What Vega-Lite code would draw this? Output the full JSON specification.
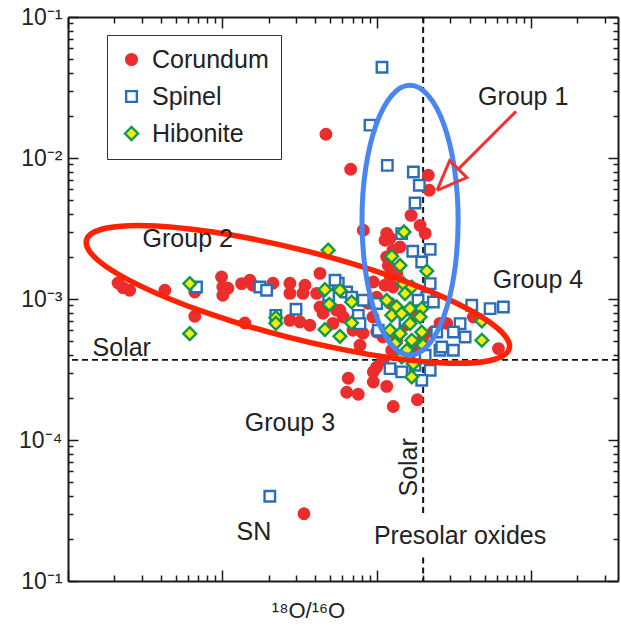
{
 "$schema": "https://vega.github.io/schema/vega-lite/v6.json",
 "width": 550,
 "height": 564,
 "autosize": {"type": "none"},
 "padding": {"left": 68, "top": 17, "right": 3, "bottom": 45},
 "background": "white",
 "config": {
  "view": {"stroke": null},
  "font": "Liberation Sans",
  "axis": {"grid": false, "domainColor": "#1a1a1a", "domainWidth": 2, "tickColor": "#1a1a1a", "tickWidth": 1.5, "labelFont": "Liberation Sans", "labelFontSize": 23, "labelColor": "#222", "labelOverlap": false, "labelFlush": false, "titleFont": "Liberation Sans", "titleFontWeight": "normal", "titleColor": "#222"}
 },
 "datasets": {
  "solarH": [{"y": 0.00037}],
  "solarV": [{"x": 0.002, "y": 0.1, "y2": 0.0000302}, {"x": 0.002, "y": 0.0000147, "y2": 0.00001}],
  "grains": [
   {"mineral":"Corundum","x":2.11e-5,"y":1.30e-3},{"mineral":"Corundum","x":2.27e-5,"y":1.205e-3},{"mineral":"Corundum","x":2.51e-5,"y":1.153e-3},{"mineral":"Corundum","x":4.24e-5,"y":1.153e-3},{"mineral":"Corundum","x":6.63e-5,"y":1.121e-3},{"mineral":"Corundum","x":6.63e-5,"y":7.54e-4},{"mineral":"Corundum","x":9.88e-5,"y":1.432e-3},{"mineral":"Corundum","x":1.007e-4,"y":1.216e-3},{"mineral":"Corundum","x":1.086e-4,"y":1.191e-3},{"mineral":"Corundum","x":1.007e-4,"y":1.062e-3},{"mineral":"Corundum","x":1.399e-4,"y":6.76e-4},{"mineral":"Corundum","x":1.332e-4,"y":1.286e-3},{"mineral":"Corundum","x":1.508e-4,"y":1.357e-3},{"mineral":"Corundum","x":1.577e-4,"y":1.251e-3},{"mineral":"Corundum","x":2.126e-4,"y":1.292e-3},{"mineral":"Corundum","x":2.74e-4,"y":1.292e-3},{"mineral":"Corundum","x":2.74e-4,"y":1.097e-3},{"mineral":"Corundum","x":3.43e-4,"y":1.251e-3},{"mineral":"Corundum","x":3.33e-4,"y":1.097e-3},{"mineral":"Corundum","x":4.29e-4,"y":1.521e-3},{"mineral":"Corundum","x":4.08e-4,"y":1.097e-3},{"mineral":"Corundum","x":2.74e-4,"y":7.06e-4},{"mineral":"Corundum","x":3.18e-4,"y":6.87e-4},{"mineral":"Corundum","x":3.69e-4,"y":6.51e-4},{"mineral":"Corundum","x":4.49e-4,"y":7.92e-4},{"mineral":"Corundum","x":5.21e-4,"y":6.72e-4},{"mineral":"Corundum","x":7.02e-4,"y":6.0e-4},{"mineral":"Corundum","x":5.78e-4,"y":8.32e-4},{"mineral":"Corundum","x":4.29e-4,"y":8.78e-4},{"mineral":"Corundum","x":4.69e-4,"y":1.473e-2},{"mineral":"Corundum","x":6.78e-4,"y":8.32e-3},{"mineral":"Corundum","x":2.16e-3,"y":7.54e-3},{"mineral":"Corundum","x":2.19e-3,"y":5.90e-3},{"mineral":"Corundum","x":1.67e-3,"y":3.92e-3},{"mineral":"Corundum","x":1.91e-3,"y":3.33e-3},{"mineral":"Corundum","x":2.06e-3,"y":2.92e-3},{"mineral":"Corundum","x":8.19e-4,"y":3.07e-3},{"mineral":"Corundum","x":1.161e-3,"y":2.92e-3},{"mineral":"Corundum","x":1.22e-3,"y":2.70e-3},{"mineral":"Corundum","x":1.132e-3,"y":2.61e-3},{"mineral":"Corundum","x":1.276e-3,"y":2.22e-3},{"mineral":"Corundum","x":1.416e-3,"y":2.34e-3},{"mineral":"Corundum","x":1.161e-3,"y":1.99e-3},{"mineral":"Corundum","x":1.189e-3,"y":1.73e-3},{"mineral":"Corundum","x":1.22e-3,"y":1.47e-3},{"mineral":"Corundum","x":1.348e-3,"y":1.521e-3},{"mineral":"Corundum","x":9.51e-4,"y":1.32e-3},{"mineral":"Corundum","x":1.132e-3,"y":1.251e-3},{"mineral":"Corundum","x":1.276e-3,"y":1.216e-3},{"mineral":"Corundum","x":1.0e-3,"y":1.03e-3},{"mineral":"Corundum","x":1.22e-3,"y":9.32e-4},{"mineral":"Corundum","x":5.50e-4,"y":8.32e-4},{"mineral":"Corundum","x":6.07e-4,"y":7.45e-4},{"mineral":"Corundum","x":8.78e-4,"y":9.32e-4},{"mineral":"Corundum","x":9.46e-4,"y":7.45e-4},{"mineral":"Corundum","x":8.15e-4,"y":5.71e-4},{"mineral":"Corundum","x":1.0e-3,"y":5.83e-4},{"mineral":"Corundum","x":1.099e-3,"y":5.38e-4},{"mineral":"Corundum","x":1.348e-3,"y":5.10e-4},{"mineral":"Corundum","x":1.72e-3,"y":4.57e-4},{"mineral":"Corundum","x":2.0e-3,"y":5.38e-4},{"mineral":"Corundum","x":2.32e-3,"y":5.83e-4},{"mineral":"Corundum","x":2.57e-3,"y":6.72e-4},{"mineral":"Corundum","x":2.84e-3,"y":6.72e-4},{"mineral":"Corundum","x":4.23e-3,"y":7.45e-4},{"mineral":"Corundum","x":6.15e-3,"y":4.45e-4},{"mineral":"Corundum","x":1.251e-3,"y":4.33e-4},{"mineral":"Corundum","x":1.099e-3,"y":3.67e-4},{"mineral":"Corundum","x":1.0e-3,"y":3.29e-4},{"mineral":"Corundum","x":9.51e-4,"y":3.04e-4},{"mineral":"Corundum","x":6.54e-4,"y":2.74e-4},{"mineral":"Corundum","x":6.39e-4,"y":2.18e-4},{"mineral":"Corundum","x":7.60e-4,"y":2.11e-4},{"mineral":"Corundum","x":1.161e-3,"y":2.40e-4},{"mineral":"Corundum","x":1.28e-3,"y":1.73e-4},{"mineral":"Corundum","x":1.834e-3,"y":1.93e-4},{"mineral":"Corundum","x":3.38e-4,"y":3.0e-5},{"mineral":"Corundum","x":9.51e-4,"y":2.58e-4},{"mineral":"Corundum","x":1.526e-3,"y":6.51e-4},{"mineral":"Corundum","x":7.79e-4,"y":4.70e-4},{"mineral":"Corundum","x":1.772e-3,"y":7.66e-4},
   {"mineral":"Spinel","x":6.80e-5,"y":1.216e-3},{"mineral":"Spinel","x":1.751e-4,"y":1.216e-3},{"mineral":"Spinel","x":1.935e-4,"y":1.153e-3},{"mineral":"Spinel","x":2.22e-4,"y":7.66e-4},{"mineral":"Spinel","x":3.0e-4,"y":8.45e-4},{"mineral":"Spinel","x":5.64e-4,"y":1.292e-3},{"mineral":"Spinel","x":6.39e-4,"y":1.121e-3},{"mineral":"Spinel","x":6.88e-4,"y":1.03e-3},{"mineral":"Spinel","x":4.88e-4,"y":1.062e-3},{"mineral":"Spinel","x":1.082e-3,"y":4.40e-2},{"mineral":"Spinel","x":9.05e-4,"y":1.71e-2},{"mineral":"Spinel","x":1.172e-3,"y":8.87e-3},{"mineral":"Spinel","x":1.728e-3,"y":7.96e-3},{"mineral":"Spinel","x":1.889e-3,"y":6.40e-3},{"mineral":"Spinel","x":1.772e-3,"y":4.80e-3},{"mineral":"Spinel","x":1.452e-3,"y":2.91e-3},{"mineral":"Spinel","x":1.712e-3,"y":2.18e-3},{"mineral":"Spinel","x":2.22e-3,"y":2.25e-3},{"mineral":"Spinel","x":1.958e-3,"y":1.83e-3},{"mineral":"Spinel","x":5.37e-4,"y":1.357e-3},{"mineral":"Spinel","x":8.19e-4,"y":9.79e-4},{"mineral":"Spinel","x":1.0e-3,"y":9.28e-4},{"mineral":"Spinel","x":2.11e-3,"y":1.03e-3},{"mineral":"Spinel","x":2.33e-3,"y":9.52e-4},{"mineral":"Spinel","x":2.22e-3,"y":1.286e-3},{"mineral":"Spinel","x":7.60e-4,"y":7.66e-4},{"mineral":"Spinel","x":7.79e-4,"y":6.69e-4},{"mineral":"Spinel","x":1.024e-3,"y":6.0e-4},{"mineral":"Spinel","x":4.13e-3,"y":9.02e-4},{"mineral":"Spinel","x":5.43e-3,"y":8.55e-4},{"mineral":"Spinel","x":6.62e-3,"y":8.78e-4},{"mineral":"Spinel","x":3.47e-3,"y":6.69e-4},{"mineral":"Spinel","x":3.14e-3,"y":5.83e-4},{"mineral":"Spinel","x":3.74e-3,"y":5.38e-4},{"mineral":"Spinel","x":2.57e-3,"y":4.33e-4},{"mineral":"Spinel","x":3.14e-3,"y":4.33e-4},{"mineral":"Spinel","x":2.22e-3,"y":3.12e-4},{"mineral":"Spinel","x":1.22e-3,"y":3.21e-4},{"mineral":"Spinel","x":1.452e-3,"y":3.04e-4},{"mineral":"Spinel","x":1.958e-3,"y":2.65e-4},{"mineral":"Spinel","x":2.45e-3,"y":5.83e-4},{"mineral":"Spinel","x":2.64e-3,"y":4.57e-4},{"mineral":"Spinel","x":1.603e-3,"y":4.10e-4},{"mineral":"Spinel","x":2.03e-4,"y":3.99e-5},{"mineral":"Spinel","x":1.853e-3,"y":9.79e-4},{"mineral":"Spinel","x":1.526e-3,"y":7.06e-4},{"mineral":"Spinel","x":2.06e-3,"y":3.99e-4},{"mineral":"Spinel","x":1.772e-3,"y":3.39e-4},
   {"mineral":"Hibonite","x":6.15e-5,"y":1.286e-3},{"mineral":"Hibonite","x":6.15e-5,"y":5.68e-4},{"mineral":"Hibonite","x":4.85e-4,"y":2.22e-3},{"mineral":"Hibonite","x":4.62e-4,"y":1.166e-3},{"mineral":"Hibonite","x":5.78e-4,"y":1.153e-3},{"mineral":"Hibonite","x":4.93e-4,"y":9.17e-4},{"mineral":"Hibonite","x":6.88e-4,"y":9.52e-4},{"mineral":"Hibonite","x":2.22e-4,"y":7.38e-4},{"mineral":"Hibonite","x":2.22e-4,"y":6.72e-4},{"mineral":"Hibonite","x":4.62e-4,"y":6.07e-4},{"mineral":"Hibonite","x":5.78e-4,"y":5.44e-4},{"mineral":"Hibonite","x":6.88e-4,"y":6.76e-4},{"mineral":"Hibonite","x":1.503e-3,"y":2.99e-3},{"mineral":"Hibonite","x":1.251e-3,"y":2.01e-3},{"mineral":"Hibonite","x":1.416e-3,"y":1.73e-3},{"mineral":"Hibonite","x":2.11e-3,"y":1.58e-3},{"mineral":"Hibonite","x":1.488e-3,"y":1.286e-3},{"mineral":"Hibonite","x":1.687e-3,"y":1.216e-3},{"mineral":"Hibonite","x":1.526e-3,"y":1.092e-3},{"mineral":"Hibonite","x":1.161e-3,"y":9.79e-4},{"mineral":"Hibonite","x":1.348e-3,"y":8.78e-4},{"mineral":"Hibonite","x":1.644e-3,"y":8.55e-4},{"mineral":"Hibonite","x":1.958e-3,"y":8.55e-4},{"mineral":"Hibonite","x":1.251e-3,"y":7.66e-4},{"mineral":"Hibonite","x":1.452e-3,"y":7.88e-4},{"mineral":"Hibonite","x":1.644e-3,"y":6.69e-4},{"mineral":"Hibonite","x":1.91e-3,"y":7.45e-4},{"mineral":"Hibonite","x":1.22e-3,"y":6.0e-4},{"mineral":"Hibonite","x":1.416e-3,"y":5.68e-4},{"mineral":"Hibonite","x":1.687e-3,"y":5.10e-4},{"mineral":"Hibonite","x":1.958e-3,"y":5.83e-4},{"mineral":"Hibonite","x":2.0e-3,"y":4.70e-4},{"mineral":"Hibonite","x":1.565e-3,"y":4.33e-4},{"mineral":"Hibonite","x":1.728e-3,"y":3.48e-4},{"mineral":"Hibonite","x":1.687e-3,"y":2.80e-4},{"mineral":"Hibonite","x":4.80e-3,"y":6.98e-4},{"mineral":"Hibonite","x":4.80e-3,"y":5.10e-4},{"mineral":"Hibonite","x":1.452e-3,"y":3.88e-4},{"mineral":"Hibonite","x":1.314e-3,"y":4.83e-4}
  ],
  "ellipseG2": [
   {"i":0,"x":7.23e-3,"y":4.46e-4},{"i":1,"x":5.35e-3,"y":3.65e-4},{"i":2,"x":2.56e-3,"y":3.53e-4},{"i":3,"x":8.87e-4,"y":4.05e-4},{"i":4,"x":2.62e-4,"y":5.38e-4},{"i":5,"x":7.94e-5,"y":7.96e-4},{"i":6,"x":2.96e-5,"y":1.234e-3},{"i":7,"x":1.57e-5,"y":1.875e-3},{"i":8,"x":1.318e-5,"y":2.62e-3},{"i":9,"x":1.785e-5,"y":3.19e-3},{"i":10,"x":3.73e-5,"y":3.30e-3},{"i":11,"x":1.074e-4,"y":2.88e-3},{"i":12,"x":3.63e-4,"y":2.166e-3},{"i":13,"x":1.2e-3,"y":1.466e-3},{"i":14,"x":3.22e-3,"y":9.44e-4},{"i":15,"x":6.05e-3,"y":6.22e-4}
  ],
  "ellipseG1": [
   {"i":0,"x":3.37e-3,"y":3.62e-3},{"i":1,"x":3.19e-3,"y":1.55e-3},{"i":2,"x":2.73e-3,"y":7.60e-4},{"i":3,"x":2.16e-3,"y":4.72e-4},{"i":4,"x":1.64e-3,"y":3.99e-4},{"i":5,"x":1.25e-3,"y":4.72e-4},{"i":6,"x":9.91e-4,"y":7.60e-4},{"i":7,"x":8.48e-4,"y":1.55e-3},{"i":8,"x":8.03e-4,"y":3.62e-3},{"i":9,"x":8.48e-4,"y":8.41e-3},{"i":10,"x":9.91e-4,"y":1.72e-2},{"i":11,"x":1.25e-3,"y":2.77e-2},{"i":12,"x":1.64e-3,"y":3.28e-2},{"i":13,"x":2.16e-3,"y":2.77e-2},{"i":14,"x":2.73e-3,"y":1.72e-2},{"i":15,"x":3.19e-3,"y":8.41e-3}
  ],
  "arrow": [
   {"part":"shaft","i":0,"x":8.00e-3,"y":2.14e-2},{"part":"shaft","i":1,"x":3.38e-3,"y":8.34e-3},
   {"part":"head","i":0,"x":2.46e-3,"y":5.90e-3},{"part":"head","i":1,"x":3.84e-3,"y":7.26e-3},{"part":"head","i":2,"x":2.97e-3,"y":9.59e-3},{"part":"head","i":3,"x":2.46e-3,"y":5.90e-3}
  ],
  "labels": [
   {"text":"Group 1","x":8.89e-3,"y":2.70e-2},
   {"text":"Group 2","x":5.97e-5,"y":2.65e-3},
   {"text":"Group 3","x":2.74e-4,"y":1.31e-4},
   {"text":"Group 4","x":1.11e-2,"y":1.357e-3},
   {"text":"Solar","x":2.23e-5,"y":4.47e-4},
   {"text":"SN","x":1.60e-4,"y":2.21e-5},
   {"text":"Presolar oxides","x":3.47e-3,"y":2.07e-5}
  ],
  "vlabels": [
   {"text":"Solar","x":1.62e-3,"y":6.40e-5}
  ]
 },
 "layer": [
  {
   "data": {"name": "solarH"},
   "mark": {"type": "rule", "stroke": "#111", "strokeWidth": 1.8, "strokeDash": [6, 4]},
   "encoding": {
    "y": {"field": "y", "type": "quantitative", "scale": {"type": "log", "domain": [0.00001, 0.1], "nice": false}, "axis": null}
   }
  },
  {
   "data": {"name": "solarV"},
   "mark": {"type": "rule", "stroke": "#111", "strokeWidth": 2, "strokeDash": [6, 4]},
   "encoding": {
    "x": {"field": "x", "type": "quantitative", "scale": {"type": "log", "domain": [0.00001, 0.0366], "nice": false}, "axis": null},
    "y": {"field": "y", "type": "quantitative", "scale": {"type": "log", "domain": [0.00001, 0.1], "nice": false}, "axis": null},
    "y2": {"field": "y2"}
   }
  },
  {
   "data": {"name": "grains"},
   "mark": {"type": "point", "size": 110, "strokeWidth": 2.4, "opacity": 1, "filled": false},
   "encoding": {
    "x": {"field": "x", "type": "quantitative", "scale": {"type": "log", "domain": [0.00001, 0.0366], "nice": false},
     "axis": {"orient": "bottom", "values": [0.00001,0.00002,0.00003,0.00004,0.00005,0.00006,0.00007,0.00008,0.00009,0.0001,0.0002,0.0003,0.0004,0.0005,0.0006,0.0007,0.0008,0.0009,0.001,0.002,0.003,0.004,0.005,0.006,0.007,0.008,0.009,0.01,0.02,0.03],
      "labels": false, "tickSize": {"condition": {"test": "indexof([0.00001,0.0001,0.001,0.01,0.1], datum.value) >= 0", "value": -11}, "value": -6},
      "title": "¹⁸O/¹⁶O", "titleFontSize": 22, "titleX": 240, "titleY": 36, "titleAlign": "center", "titleBaseline": "alphabetic"}},
    "y": {"field": "y", "type": "quantitative", "scale": {"type": "log", "domain": [0.00001, 0.1], "nice": false},
     "axis": {"orient": "left", "values": [0.00001,0.00002,0.00003,0.00004,0.00005,0.00006,0.00007,0.00008,0.00009,0.0001,0.0002,0.0003,0.0004,0.0005,0.0006,0.0007,0.0008,0.0009,0.001,0.002,0.003,0.004,0.005,0.006,0.007,0.008,0.009,0.01,0.02,0.03,0.04,0.05,0.06,0.07,0.08,0.09,0.1],
      "labelExpr": "datum.value === 0.1 ? '10⁻¹' : datum.value === 0.01 ? '10⁻²' : datum.value === 0.001 ? '10⁻³' : datum.value === 0.0001 ? '10⁻⁴' : datum.value === 0.00001 ? '10⁻¹' : ''",
      "labelPadding": 16, "tickSize": {"condition": {"test": "indexof([0.00001,0.0001,0.001,0.01,0.1], datum.value) >= 0", "value": -10}, "value": -5},
      "title": null}},
    "shape": {"field": "mineral", "type": "nominal", "scale": {"domain": ["Corundum", "Spinel", "Hibonite"], "range": ["circle", "square", "M-1.22,0L0,-1.22L1.22,0L0,1.22Z"]},
     "legend": {"orient": "none", "legendX": 39, "legendY": 18, "title": null, "labelFontSize": 25, "labelFont": "Liberation Sans", "labelColor": "#222", "symbolSize": 115, "symbolStrokeWidth": 2.4, "strokeColor": "#333", "padding": 12, "rowPadding": 11, "labelOffset": 8, "symbolOffset": 0, "fillColor": "white"}},
    "fill": {"field": "mineral", "type": "nominal", "scale": {"domain": ["Corundum", "Spinel", "Hibonite"], "range": ["#ec2d2d", "#ffffff", "#f6ea12"]},
     "legend": {"orient": "none", "legendX": 39, "legendY": 18, "title": null, "labelFontSize": 25, "labelFont": "Liberation Sans", "labelColor": "#222", "symbolSize": 115, "symbolStrokeWidth": 2.4, "strokeColor": "#333", "padding": 12, "rowPadding": 11, "labelOffset": 8, "symbolOffset": 0, "fillColor": "white"}},
    "stroke": {"field": "mineral", "type": "nominal", "scale": {"domain": ["Corundum", "Spinel", "Hibonite"], "range": ["#ec2d2d", "#2a6ebb", "#0f9a4a"]},
     "legend": {"orient": "none", "legendX": 39, "legendY": 18, "title": null, "labelFontSize": 25, "labelFont": "Liberation Sans", "labelColor": "#222", "symbolSize": 115, "symbolStrokeWidth": 2.4, "strokeColor": "#333", "padding": 12, "rowPadding": 11, "labelOffset": 8, "symbolOffset": 0, "fillColor": "white"}}
   }
  },
  {
   "data": {"name": "ellipseG2"},
   "mark": {"type": "line", "interpolate": "cardinal-closed", "stroke": "#ff2200", "strokeWidth": 5.5},
   "encoding": {
    "x": {"field": "x", "type": "quantitative", "scale": {"type": "log", "domain": [0.00001, 0.0366], "nice": false},
     "axis": {"orient": "top", "values": [0.00001,0.00002,0.00003,0.00004,0.00005,0.00006,0.00007,0.00008,0.00009,0.0001,0.0002,0.0003,0.0004,0.0005,0.0006,0.0007,0.0008,0.0009,0.001,0.002,0.003,0.004,0.005,0.006,0.007,0.008,0.009,0.01,0.02,0.03],
      "labels": false, "tickSize": {"condition": {"test": "indexof([0.00001,0.0001,0.001,0.01,0.1], datum.value) >= 0", "value": -11}, "value": -6}, "title": null}},
    "y": {"field": "y", "type": "quantitative", "scale": {"type": "log", "domain": [0.00001, 0.1], "nice": false},
     "axis": {"orient": "right", "values": [0.00001,0.00002,0.00003,0.00004,0.00005,0.00006,0.00007,0.00008,0.00009,0.0001,0.0002,0.0003,0.0004,0.0005,0.0006,0.0007,0.0008,0.0009,0.001,0.002,0.003,0.004,0.005,0.006,0.007,0.008,0.009,0.01,0.02,0.03,0.04,0.05,0.06,0.07,0.08,0.09,0.1],
      "labels": false, "tickSize": {"condition": {"test": "indexof([0.00001,0.0001,0.001,0.01,0.1], datum.value) >= 0", "value": -10}, "value": -5}, "title": null}},
    "order": {"field": "i", "type": "quantitative"}
   }
  },
  {
   "data": {"name": "ellipseG1"},
   "mark": {"type": "line", "interpolate": "cardinal-closed", "stroke": "#4a86f0", "strokeWidth": 5},
   "encoding": {
    "x": {"field": "x", "type": "quantitative", "scale": {"type": "log", "domain": [0.00001, 0.0366], "nice": false}, "axis": null},
    "y": {"field": "y", "type": "quantitative", "scale": {"type": "log", "domain": [0.00001, 0.1], "nice": false}, "axis": null},
    "order": {"field": "i", "type": "quantitative"}
   }
  },
  {
   "data": {"name": "arrow"},
   "mark": {"type": "line", "stroke": "#ee3333", "strokeWidth": 3, "strokeJoin": "miter"},
   "encoding": {
    "x": {"field": "x", "type": "quantitative", "scale": {"type": "log", "domain": [0.00001, 0.0366], "nice": false}, "axis": null},
    "y": {"field": "y", "type": "quantitative", "scale": {"type": "log", "domain": [0.00001, 0.1], "nice": false}, "axis": null},
    "detail": {"field": "part", "type": "nominal"},
    "order": {"field": "i", "type": "quantitative"}
   }
  },
  {
   "data": {"name": "labels"},
   "mark": {"type": "text", "fontSize": 25, "font": "Liberation Sans", "color": "#222", "align": "center", "baseline": "middle"},
   "encoding": {
    "x": {"field": "x", "type": "quantitative", "scale": {"type": "log", "domain": [0.00001, 0.0366], "nice": false}, "axis": null},
    "y": {"field": "y", "type": "quantitative", "scale": {"type": "log", "domain": [0.00001, 0.1], "nice": false}, "axis": null},
    "text": {"field": "text", "type": "nominal"}
   }
  },
  {
   "data": {"name": "vlabels"},
   "mark": {"type": "text", "fontSize": 25, "font": "Liberation Sans", "color": "#222", "align": "center", "baseline": "middle", "angle": 270},
   "encoding": {
    "x": {"field": "x", "type": "quantitative", "scale": {"type": "log", "domain": [0.00001, 0.0366], "nice": false}, "axis": null},
    "y": {"field": "y", "type": "quantitative", "scale": {"type": "log", "domain": [0.00001, 0.1], "nice": false}, "axis": null},
    "text": {"field": "text", "type": "nominal"}
   }
  }
 ],
 "resolve": {"axis": {"x": "independent", "y": "independent"}}
}
